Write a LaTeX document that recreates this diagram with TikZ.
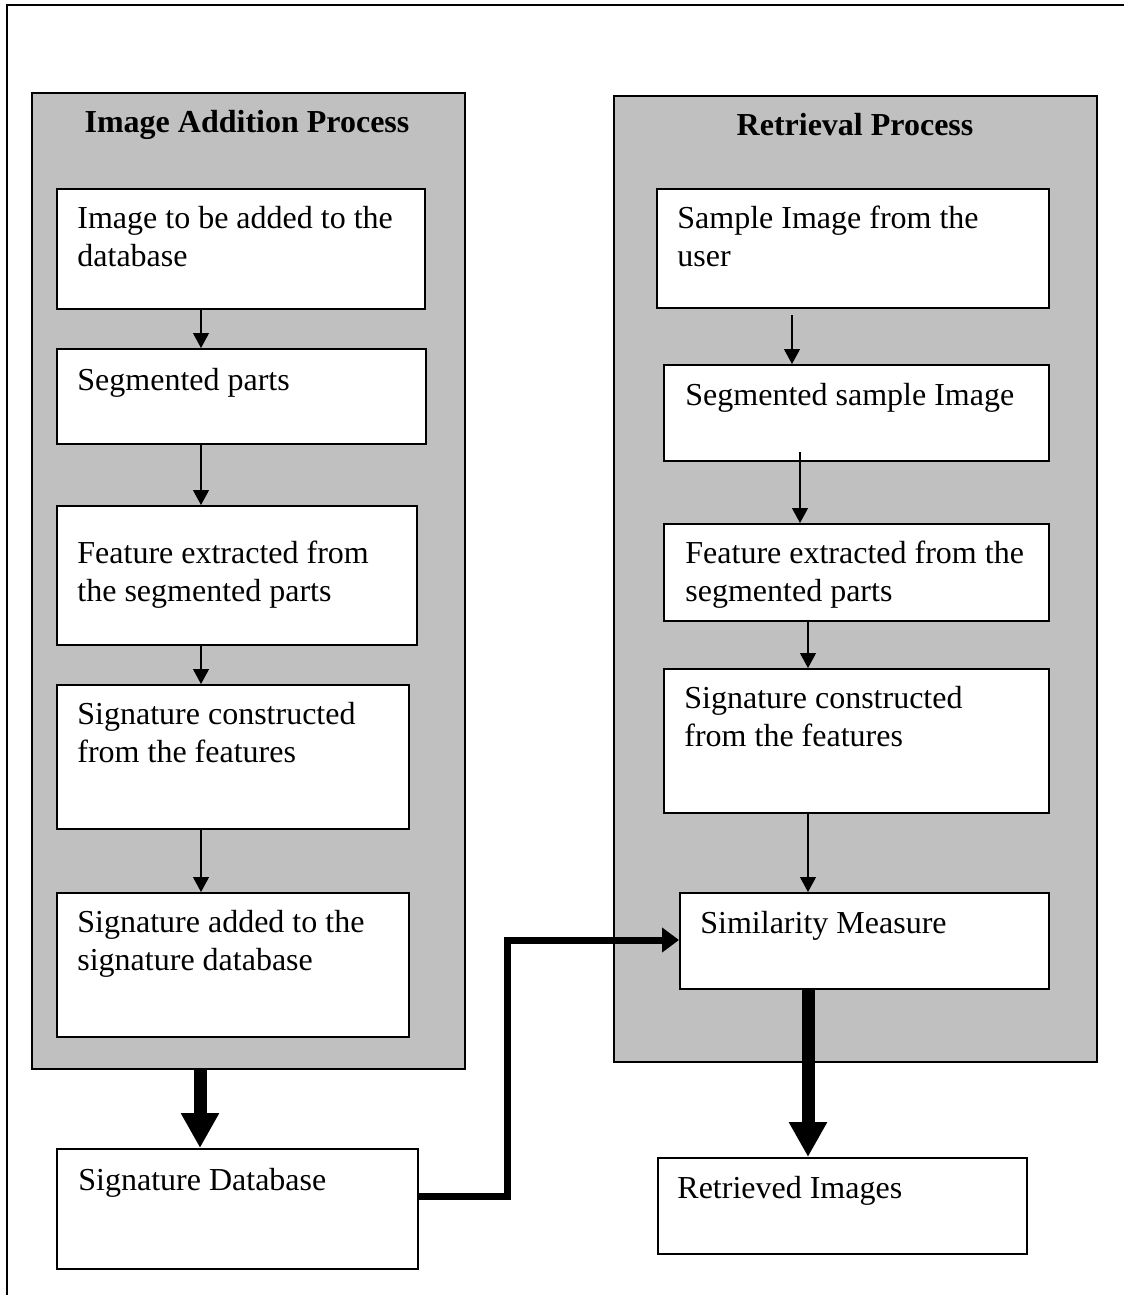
\documentclass[tikz,border=0pt]{standalone}
\usepackage{fontspec}
\setmainfont{Liberation Serif}
\usetikzlibrary{arrows.meta,calc}
\definecolor{panelgray}{HTML}{C0C0C0}
\begin{document}
\begin{tikzpicture}[x=0.5pt,y=-0.5pt,
 panel/.style={draw=black,line width=0.8pt,fill=panelgray,inner sep=0pt,anchor=north west},
 stepbox/.style={draw=black,line width=0.8pt,fill=white,inner sep=0pt,anchor=north west},
 txt/.style={inner sep=0pt,anchor=north west,align=left,font=\fontsize{16}{19}\selectfont},
 ttl/.style={inner sep=0pt,anchor=base,font=\fontsize{16}{19}\selectfont\bfseries},
 thinarrow/.style={line width=0.6pt,-{Triangle[width=8pt,length=7.5pt]}},
 fatarrow/.style={line width=6.5pt,-{Triangle[width=18pt,length=17.5pt]}},
 elbowarrow/.style={line width=3.5pt,-{Triangle[width=12pt,length=8.5pt]}},
]
\useasboundingbox (0,0) rectangle (1124,1295);
% outer frame (top and left only)
\draw[line width=1pt] (7,1295) -- (7,5) -- (1124,5);

% panels
\node[panel,minimum width=216.5pt,minimum height=488pt] (lp) at (31,92) {};
\node[panel,minimum width=241.5pt,minimum height=483pt] (rp) at (613,95) {};
\node[ttl] (lt) at (247,133) {Image Addition Process};
\node[ttl] (rt) at (855,135) {Retrieval Process};

% left boxes
\node[stepbox,minimum width=184pt,minimum height=60pt] (l1) at (56,188) {};
\node[stepbox,minimum width=184.5pt,minimum height=47.5pt] (l2) at (56,348) {};
\node[stepbox,minimum width=180pt,minimum height=69.5pt] (l3) at (56,505) {};
\node[stepbox,minimum width=176pt,minimum height=72pt] (l4) at (56,684) {};
\node[stepbox,minimum width=176pt,minimum height=72pt] (l5) at (56,892) {};
\node[stepbox,minimum width=180.5pt,minimum height=60pt] (db) at (56,1148) {};

% right boxes
\node[stepbox,minimum width=196pt,minimum height=59.5pt] (r1) at (656,188) {};
\node[stepbox,minimum width=192.5pt,minimum height=48pt] (r2) at (663,364) {};
\node[stepbox,minimum width=192.5pt,minimum height=48.5pt] (r3) at (663,523) {};
\node[stepbox,minimum width=192.5pt,minimum height=72pt] (r4) at (663,668) {};
\node[stepbox,minimum width=184.5pt,minimum height=48pt] (r5) at (679,892) {};
\node[stepbox,minimum width=184.5pt,minimum height=48pt] (ret) at (657,1157) {};

% texts
\node[txt] (tl1) at (77,201.4) {\strut Image to be added to the\\\strut database};
\node[txt] (tl2) at (77,363.4) {\strut Segmented parts};
\node[txt] (tl3) at (77,536.4) {\strut Feature extracted from\\\strut the segmented parts};
\node[txt] (tl4) at (77,697.4) {\strut Signature constructed\\\strut from the features};
\node[txt] (tl5) at (77,905.4) {\strut Signature added to the\\\strut signature database};
\node[txt] (tdb) at (78,1163.4) {\strut Signature Database};
\node[txt] (tr1) at (677,201.4) {\strut Sample Image from the\\\strut user};
\node[txt] (tr2) at (685,378.4) {\strut Segmented sample Image};
\node[txt] (tr3) at (685,536.4) {\strut Feature extracted from the\\\strut segmented parts};
\node[txt] (tr4) at (684,681.4) {\strut Signature constructed\\\strut from the features};
\node[txt] (tr5) at (700,906.4) {\strut Similarity Measure};
\node[txt] (tret) at (677,1171.4) {\strut Retrieved Images};

% thin arrows
\coordinate (aL) at (201,0);
\draw[thinarrow] (l1.south -| aL) -- (l2.north -| aL);
\draw[thinarrow] (l2.south -| aL) -- (l3.north -| aL);
\draw[thinarrow] (l3.south -| aL) -- (l4.north -| aL);
\draw[thinarrow] (l4.south -| aL) -- (l5.north -| aL);
\coordinate (s1) at (792,315);
\draw[thinarrow] (s1) -- (r2.north -| s1);
\coordinate (s2) at (800,452);
\draw[thinarrow] (s2) -- (r3.north -| s2);
\coordinate (aR) at (808,0);
\draw[thinarrow] (r3.south -| aR) -- (r4.north -| aR);
\draw[thinarrow] (r4.south -| aR) -- (r5.north -| aR);

% thick arrows
\coordinate (fL) at (200,0);
\draw[fatarrow] (lp.south -| fL) -- (db.north -| fL);
\draw[fatarrow] (r5.south -| aR) -- (ret.north -| aR);
\coordinate (e1) at (507,1196);
\coordinate (e2) at (507,940);
\draw[elbowarrow] (db.east |- e1) -- (e1) -- (e2) -- (r5.west |- e2);
\end{tikzpicture}
\end{document}
